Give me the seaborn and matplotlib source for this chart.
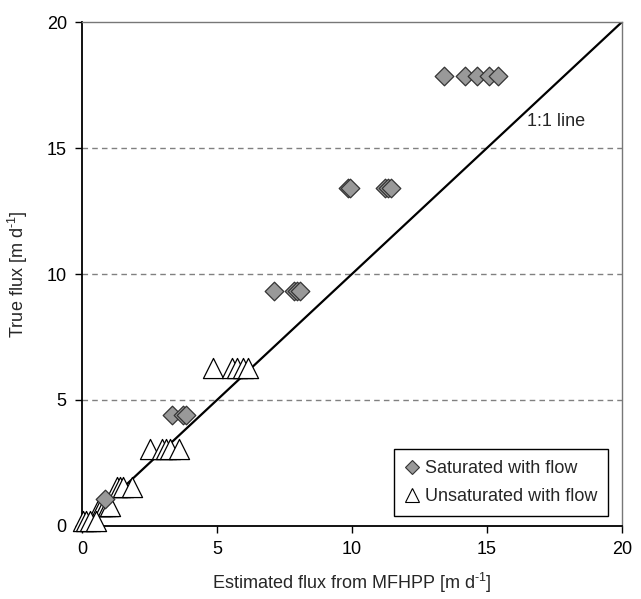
import matplotlib
matplotlib.use("Agg")
import matplotlib.pyplot as plt
import seaborn as sns
import pandas as pd
from matplotlib.lines import Line2D

sat_x = [13.40, 14.20, 14.65, 15.09, 15.40,
         9.85, 9.92, 11.22, 11.32, 11.45,
         7.12, 7.84, 7.95, 8.08,
         3.34, 3.75, 3.86,
         0.85]
sat_y = [17.85, 17.85, 17.85, 17.85, 17.85,
         13.40, 13.40, 13.40, 13.40, 13.40,
         9.33, 9.33, 9.33, 9.33,
         4.40, 4.40, 4.40,
         1.05]
unsat_x = [4.85, 5.55, 5.75, 5.95, 6.15,
           2.50, 2.95, 3.10, 3.25, 3.60,
           1.30, 1.40, 1.50, 1.85,
           0.65, 0.75, 0.85, 0.95, 1.05,
           0.05, 0.15, 0.30, 0.50]
unsat_y = [6.25, 6.25, 6.25, 6.25, 6.25,
           3.05, 3.05, 3.05, 3.05, 3.05,
           1.55, 1.55, 1.55, 1.55,
           0.80, 0.80, 0.80, 0.80, 0.80,
           0.20, 0.20, 0.20, 0.20]
labels = ["Saturated with flow", "Unsaturated with flow"]
ticks = [0, 5, 10, 15, 20]

sns.set_theme(style="white")
plt.rcParams['font.family'] = ['Liberation Sans', 'DejaVu Sans']
plt.rcParams['mathtext.fontset'] = 'custom'
plt.rcParams['mathtext.rm'] = 'Liberation Sans'
plt.rcParams['mathtext.default'] = 'regular'

df = pd.DataFrame({
    "x": sat_x + unsat_x,
    "y": sat_y + unsat_y,
    "series": [labels[0]] * len(sat_x) + [labels[1]] * len(unsat_x),
})

fig = plt.figure(figsize=(6.41, 5.99), dpi=100)
ax = fig.add_axes([0.128, 0.122, 0.842, 0.841])

for yv in [5, 10, 15]:
    ax.axhline(yv, color="#808080", lw=1.0, ls=(0, (4, 3)), zorder=1)

ax.plot([0, 20], [0, 20], color="black", lw=1.6, zorder=2)

sat = df[df.series == labels[0]]
uns = df[df.series == labels[1]]
sns.scatterplot(data=uns, x="x", y="y", marker="^", s=210, color="white",
                edgecolor="black", linewidth=0.9, ax=ax, zorder=3,
                clip_on=False, legend=False)
sns.scatterplot(data=sat, x="x", y="y", marker="D", s=90, color="#999999",
                edgecolor="#333333", linewidth=0.9, ax=ax, zorder=4,
                clip_on=False, legend=False)

ax.set_xlim(0, 20)
ax.set_ylim(0, 20)
ax.set_xticks(ticks)
ax.set_yticks(ticks)
ax.tick_params(axis="both", which="both", direction="out", length=5, width=1,
               colors="black", labelsize=13, bottom=True, left=True, pad=6)
for s in ["left", "bottom"]:
    ax.spines[s].set_color("black")
    ax.spines[s].set_linewidth(1.3)
for s in ["top", "right"]:
    ax.spines[s].set_color("#777777")
    ax.spines[s].set_linewidth(1.0)

ax.set_xlabel(r"Estimated flux from MFHPP [m d$^{\text{-}1}$]", fontsize=13, labelpad=9)
ax.set_ylabel(r"True flux [m d$^{\text{-}1}$]", fontsize=13, labelpad=12)

ax.text(16.5, 16.05, "1:1 line", fontsize=13, va="center", ha="left")

handles = [
    Line2D([], [], marker="D", ls="none", markersize=7, markerfacecolor="#999999",
           markeredgecolor="#333333", markeredgewidth=0.8),
    Line2D([], [], marker="^", ls="none", markersize=10, markerfacecolor="white",
           markeredgecolor="black", markeredgewidth=0.8),
]
leg = ax.legend(handles, labels, loc="lower right", bbox_to_anchor=(0.974, 0.02),
                borderaxespad=0, fontsize=13, frameon=True, fancybox=False,
                framealpha=1, edgecolor="black", handlelength=0.8,
                handletextpad=0.3, borderpad=0.6, labelspacing=0.6)
leg.get_frame().set_linewidth(1.0)

fig.savefig("out.png", dpi=100)
